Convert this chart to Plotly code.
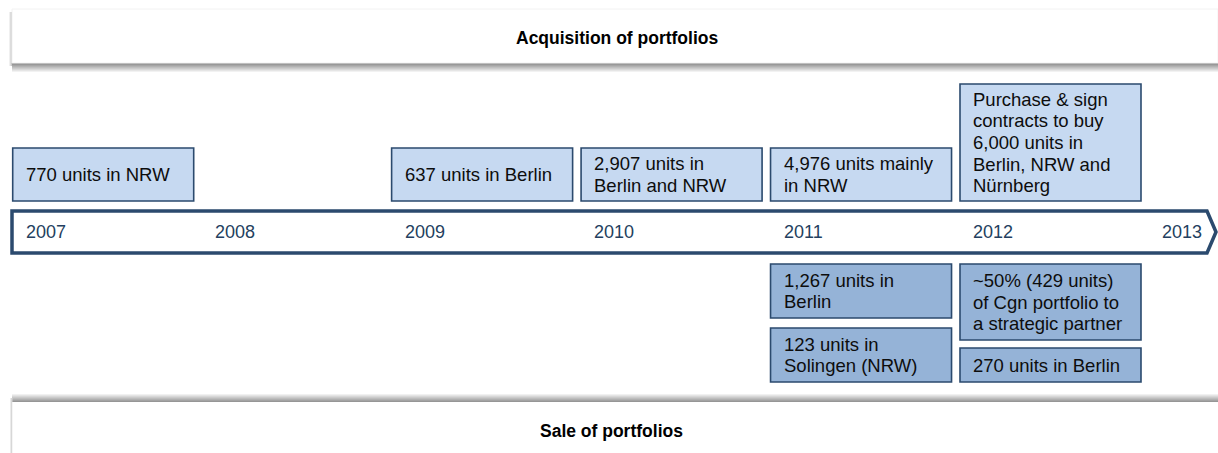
import plotly.graph_objects as go

# ---------------- data ----------------
years = [2007, 2008, 2009, 2010, 2011, 2012, 2013]
year_labels = ["2007", "2008", "2009", "2010", "2011", "2012", "2013"]

acq_years = [2007, 2009, 2010, 2011, 2012]
acq_text = [
    "770 units in NRW",
    "637 units in Berlin",
    "2,907 units in<br>Berlin and NRW",
    "4,976 units mainly<br>in NRW",
    "Purchase & sign<br>contracts to buy<br>6,000 units in<br>Berlin, NRW and<br>Nürnberg",
]

sale_years = [2011, 2011, 2012, 2012]
sale_text = [
    "1,267 units in<br>Berlin",
    "123 units in<br>Solingen (NRW)",
    "~50% (429 units)<br>of Cgn portfolio to<br>a strategic partner",
    "270 units in Berlin",
]

top_title = "Acquisition of portfolios"
bottom_title = "Sale of portfolios"

# ---------------- layout / style ----------------
W, H = 1218, 453
PX_PER_YEAR = 189.46
X0 = 2007 - 25.7 / PX_PER_YEAR
X1 = X0 + W / PX_PER_YEAR
BOX_OFF = 13 / PX_PER_YEAR
BOX_W = 181 / PX_PER_YEAR
LINE_GAP = 21.7

acq_extent = [(148, 201), (148, 201), (148, 201), (148, 201), (84, 201)]
sale_extent = [(264, 318), (328, 382), (264, 340), (348, 382)]

FONT = "Liberation Sans, Arial, sans-serif"
NAVY = "#2b4a6e"
ACQ_FILL = "#c6d9f1"
SALE_FILL = "#95b3d7"
YEAR_COLOR = "#243f60"

shapes = []
annotations = []


def px(v):
    return v / W


# ---- top panel with shadow ----
for i in range(10):
    t = i / 9
    g = int(140 + (255 - 140) * t)
    shapes.append(dict(type="rect", xref="paper", yref="y",
                       x0=px(12), x1=1, y0=63 + i, y1=64 + i,
                       fillcolor=f"rgb({g},{g},{g})", line_width=0, layer="below"))
for i in range(3):
    g = int(200 + 20 * i)
    shapes.append(dict(type="rect", xref="paper", yref="y",
                       x0=px(11 - i), x1=px(12 - i), y0=12, y1=66,
                       fillcolor=f"rgb({g},{g},{g})", line_width=0, layer="below"))
shapes.append(dict(type="rect", xref="paper", yref="y",
                   x0=px(12), x1=1, y0=9, y1=63,
                   fillcolor="white", line=dict(color="#f2f2f2", width=1), layer="below"))

# ---- bottom panel with shadow ----
for i in range(9):
    t = i / 8
    g = int(150 + (255 - 150) * t)
    shapes.append(dict(type="rect", xref="paper", yref="y",
                       x0=px(12), x1=1, y0=401 - i, y1=402 - i,
                       fillcolor=f"rgb({g},{g},{g})", line_width=0, layer="below"))
shapes.append(dict(type="rect", xref="paper", yref="y",
                   x0=px(10.5), x1=px(12.5), y0=398, y1=H,
                   fillcolor="rgb(215,215,215)", line_width=0, layer="below"))
shapes.append(dict(type="rect", xref="paper", yref="y",
                   x0=px(12.5), x1=1, y0=402, y1=H,
                   fillcolor="white", line_width=0, layer="below"))

# ---- timeline arrow ----
path = (f"M {px(12)},211 L {px(1207)},211 L {px(1216)},232 "
        f"L {px(1207)},253 L {px(12)},253 Z")
shapes.append(dict(type="path", xref="paper", yref="y", path=path,
                   fillcolor="white", line=dict(color=NAVY, width=3.5)))

for yr, lab in zip(years, year_labels):
    annotations.append(dict(x=yr, y=232, xref="x", yref="y", text=lab,
                            showarrow=False, xanchor="left", yanchor="middle",
                            xshift=-2, font=dict(family=FONT, size=18, color=YEAR_COLOR)))


def add_box(yr, ext, txt, fill):
    y0, y1 = ext
    shapes.append(dict(type="rect", xref="x", yref="y",
                       x0=yr - BOX_OFF, x1=yr - BOX_OFF + BOX_W, y0=y0, y1=y1,
                       fillcolor=fill, line=dict(color=NAVY, width=1.6)))
    lines = txt.split("<br>")
    n = len(lines)
    c = (y0 + y1) / 2
    for i, ln in enumerate(lines):
        annotations.append(dict(x=yr - BOX_OFF, y=c + (i - (n - 1) / 2) * LINE_GAP,
                                xref="x", yref="y",
                                text=ln, showarrow=False, xanchor="left", yanchor="middle",
                                align="left", xshift=11,
                                font=dict(family=FONT, size=18.5, color="#0d0d0d")))


for yr, ext, txt in zip(acq_years, acq_extent, acq_text):
    add_box(yr, ext, txt, ACQ_FILL)
for yr, ext, txt in zip(sale_years, sale_extent, sale_text):
    add_box(yr, ext, txt, SALE_FILL)

annotations.append(dict(x=px(617), y=38, xref="paper", yref="y", text=f"<b>{top_title}</b>",
                        showarrow=False, xanchor="center", yanchor="middle",
                        font=dict(family=FONT, size=17.5, color="#000000")))
annotations.append(dict(x=px(611), y=431, xref="paper", yref="y", text=f"<b>{bottom_title}</b>",
                        showarrow=False, xanchor="center", yanchor="middle",
                        font=dict(family=FONT, size=17.5, color="#000000")))

fig = go.Figure()
# invisible trace anchoring the year axis
fig.add_trace(go.Scatter(x=years, y=[232] * len(years), mode="markers",
                         marker=dict(opacity=0), hoverinfo="skip", showlegend=False))

fig.update_layout(
    width=W, height=H, autosize=False,
    margin=dict(l=0, r=0, t=0, b=0, pad=0),
    paper_bgcolor="white", plot_bgcolor="white",
    xaxis=dict(range=[X0, X1], visible=False, fixedrange=True),
    yaxis=dict(range=[H, 0], visible=False, fixedrange=True),
    shapes=shapes, annotations=annotations, showlegend=False,
)

fig.write_html("out.html", config={"displayModeBar": False},
               post_script="document.body.style.margin='0';document.body.style.overflow='hidden';")
